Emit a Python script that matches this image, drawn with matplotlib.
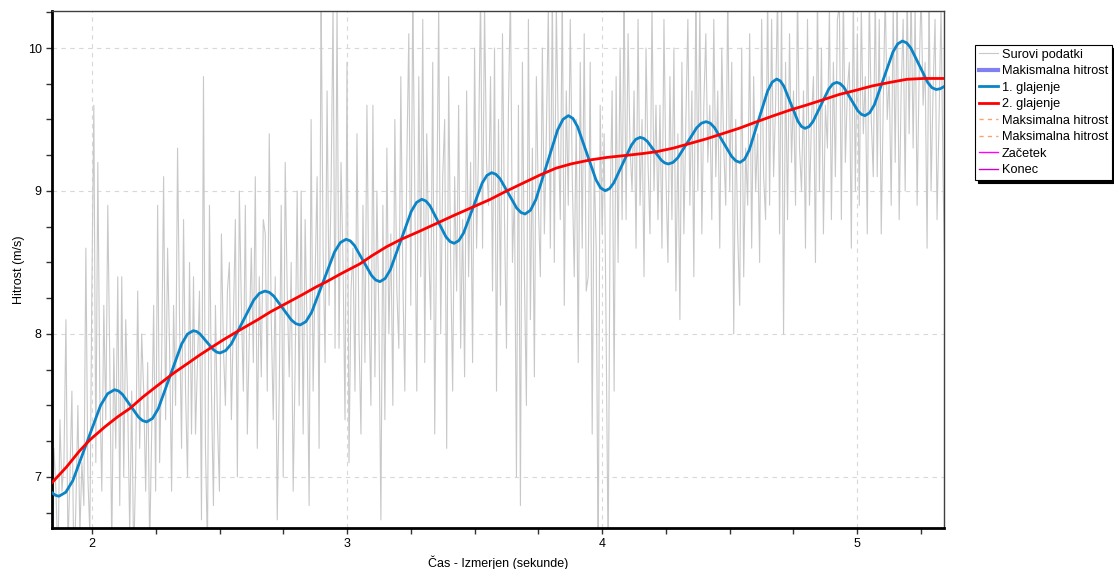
import numpy as np
import matplotlib
matplotlib.use("Agg")
import matplotlib.pyplot as plt

plt.rcParams['font.family'] = ['Liberation Sans', 'DejaVu Sans']

########## DATOS ##########
# Surovi podatki (sampled evenly in time)
raw_t0 = 1.835
raw_t1 = 5.345
raw_v = [
    7.3, 6.5, 7.2, 6.9, 6.4, 7.4, 6.9, 7.1, 8.1, 6.5, 7.0, 7.6, 6.3, 6.8, 7.5, 6.6, 7.1, 6.8,
    8.6, 7.0, 6.6, 8.3, 9.6, 7.1, 9.2, 7.6, 6.9, 8.2, 7.4, 8.9, 7.8, 6.5, 7.9, 7.2, 8.4, 6.8,
    8.4, 7.0, 8.1, 7.5, 6.6, 7.6, 6.4, 7.1, 8.3, 7.2, 8.0, 7.6, 6.9, 7.8, 6.5, 7.3, 8.2, 6.9,
    8.9, 7.1, 7.8, 9.1, 7.4, 8.6, 7.9, 6.9, 8.2, 7.5, 9.3, 8.1, 7.2, 8.8, 7.6, 7.0, 8.5, 7.3,
    8.4, 7.3, 7.8, 8.3, 6.7, 9.8, 7.2, 6.5, 8.9, 7.6, 6.8, 8.2, 7.4, 6.9, 8.7, 7.9, 7.5, 8.3,
    8.5, 7.4, 8.1, 8.8, 7.0, 9.0, 8.2, 7.6, 8.9, 7.3, 8.0, 8.6, 7.8, 9.1, 7.2, 8.4, 7.7, 8.8,
    8.7, 7.6, 9.4, 8.1, 7.4, 8.4, 6.7, 7.6, 8.9, 7.0, 9.2, 8.3, 7.7, 8.5, 6.9, 7.8, 9.0, 7.5,
    9.0, 7.3, 8.8, 8.0, 6.8, 9.5, 7.6, 8.4, 9.1, 7.2, 10.4, 8.6, 7.8, 9.7, 8.2, 9.0, 10.3, 7.9,
    10.3, 7.9, 9.2, 8.5, 7.4, 9.9, 7.1, 8.3, 8.6, 7.6, 9.4, 8.0, 7.3, 8.9, 7.8, 9.6, 8.2, 7.5,
    9.6, 7.7, 9.0, 8.1, 6.7, 8.9, 7.4, 9.3, 8.0, 8.7, 7.5, 9.5, 8.3, 7.9, 9.8, 8.4, 7.6, 9.2,
    10.1, 8.2, 10.4, 9.0, 7.6, 9.8, 8.4, 10.2, 7.8, 9.4, 8.6, 8.1, 9.9, 7.3, 8.8, 10.3, 8.0, 9.1,
    9.5, 7.2, 9.8, 8.5, 7.6, 9.1, 8.3, 9.6, 7.9, 8.8, 7.7, 9.7, 8.4, 9.2, 7.8, 10.0, 8.6, 9.3,
    10.4, 8.6, 10.3, 9.2, 8.9, 9.8, 8.3, 10.0, 7.6, 9.5, 8.2, 10.1, 8.8, 7.9, 9.6, 10.4, 8.5, 9.0,
    7.0, 9.6, 6.8, 9.9, 8.4, 7.5, 10.2, 8.1, 9.3, 7.7, 9.8, 8.9, 8.4, 10.0, 8.7, 9.4, 10.3, 8.6,
    10.4, 8.5, 10.3, 9.4, 8.8, 10.4, 8.2, 9.7, 8.9, 10.2, 9.1, 8.4, 9.5, 7.8, 9.9, 8.6, 10.1, 8.3,
    8.4, 9.9, 7.3, 9.2, 8.6, 6.3, 9.6, 8.7, 9.4, 8.0, 6.4, 8.9, 9.7, 7.6, 9.8, 8.5, 10.0, 8.8,
    10.4, 8.8, 10.1, 9.3, 9.0, 9.7, 8.6, 10.2, 8.9, 9.5, 8.4, 10.0, 9.2, 8.7, 10.3, 9.0, 9.6, 8.8,
    9.6, 8.6, 10.2, 9.1, 8.5, 9.8, 8.8, 10.0, 8.3, 9.4, 8.1, 9.9, 8.7, 9.5, 10.2, 8.9, 9.7, 8.4,
    10.4, 9.0, 10.3, 8.7, 9.6, 10.1, 9.2, 9.6, 8.8, 10.2, 9.1, 9.7, 8.6, 10.0, 9.3, 8.9, 10.4, 9.0,
    9.9, 8.0, 9.5, 8.7, 8.2, 10.0, 8.4, 9.3, 8.9, 10.1, 8.6, 9.8, 9.0, 9.4, 8.5, 10.2, 9.1, 8.8,
    10.4, 8.9, 10.2, 9.1, 9.6, 10.4, 8.7, 10.3, 8.0, 9.9, 8.8, 10.1, 9.2, 9.7, 8.9, 10.4, 9.3, 9.0,
    9.7, 8.6, 10.2, 8.9, 9.5, 9.8, 8.5, 10.4, 9.0, 10.0, 8.7, 9.6, 9.3, 10.3, 8.8, 9.9, 9.1, 10.2,
    10.3, 8.8, 10.4, 9.2, 9.7, 9.9, 8.6, 10.4, 9.0, 10.1, 8.9, 10.3, 9.4, 9.8, 8.7, 10.4, 9.5, 9.1,
    10.4, 9.1, 10.2, 8.7, 9.6, 10.4, 9.5, 9.8, 8.9, 10.3, 9.2, 10.4, 8.8, 9.7, 10.2, 9.0, 10.4, 9.4,
    10.4, 9.3, 10.3, 8.9, 9.8, 10.4, 9.6, 9.9, 8.6, 10.4, 9.0, 9.7, 10.2, 8.8, 9.5, 10.3, 9.1, 8.3,
]
raw_t = np.linspace(raw_t0, raw_t1, len(raw_v))

# 1. glajenje
gl1_t = [1.843, 1.856, 1.870, 1.897, 1.9245, 1.979, 2.0335, 2.061, 2.088,
         2.104, 2.1195, 2.151, 2.1825, 2.198, 2.214, 2.237, 2.2598, 2.3055,
         2.3513, 2.374, 2.397, 2.410, 2.4233, 2.4495, 2.4758, 2.489, 2.502,
         2.524, 2.546, 2.590, 2.634, 2.656, 2.678, 2.695, 2.7125, 2.747,
         2.7815, 2.799, 2.816, 2.8385, 2.861, 2.906, 2.951, 2.9735, 2.996,
         3.0126, 3.029, 3.0625, 3.096, 3.1124, 3.129, 3.1495, 3.170, 3.211,
         3.252, 3.2725, 3.293, 3.309, 3.325, 3.3565, 3.388, 3.404, 3.420,
         3.4384, 3.457, 3.4935, 3.530, 3.5486, 3.567, 3.5834, 3.600, 3.6325,
         3.665, 3.6816, 3.698, 3.7193, 3.7405, 3.783, 3.8255, 3.8468, 3.868,
         3.886, 3.904, 3.940, 3.976, 3.994, 4.012, 4.0291, 4.046, 4.0805,
         4.115, 4.1319, 4.149, 4.1629, 4.177, 4.2045, 4.232, 4.2461, 4.260,
         4.2785, 4.297, 4.334, 4.371, 4.3895, 4.408, 4.4246, 4.441, 4.4745,
         4.508, 4.5244, 4.541, 4.559, 4.577, 4.613, 4.649, 4.667, 4.685,
         4.6989, 4.713, 4.7405, 4.768, 4.7821, 4.796, 4.8115, 4.827, 4.858,
         4.889, 4.9045, 4.920, 4.9339, 4.948, 4.9755, 5.003, 5.0171, 5.031,
         5.0494, 5.068, 5.1045, 5.141, 5.1596, 5.178, 5.1945, 5.211, 5.244,
         5.277, 5.2935, 5.310, 5.326, 5.341]
gl1_v = [6.89, 6.872, 6.865, 6.893, 6.974, 7.2375, 7.501, 7.582, 7.61,
         7.601, 7.577, 7.4975, 7.418, 7.394, 7.385, 7.409, 7.478, 7.704,
         7.930, 7.999, 8.023, 8.017, 8.000, 7.945, 7.890, 7.873, 7.867,
         7.884, 7.930, 8.0835, 8.237, 8.284, 8.30, 8.291, 8.265, 8.1815,
         8.098, 8.072, 8.063, 8.086, 8.151, 8.3625, 8.574, 8.639, 8.662,
         8.651, 8.619, 8.514, 8.409, 8.377, 8.366, 8.388, 8.450, 8.654,
         8.858, 8.920, 8.942, 8.930, 8.897, 8.788, 8.679, 8.646, 8.634,
         8.653, 8.706, 8.881, 9.056, 9.109, 9.128, 9.117, 9.086, 8.9835,
         8.881, 8.850, 8.839, 8.865, 8.940, 9.183, 9.426, 9.501, 9.527,
         9.507, 9.450, 9.2645, 9.079, 9.022, 9.002, 9.016, 9.057, 9.1885,
         9.320, 9.361, 9.375, 9.368, 9.348, 9.282, 9.216, 9.196, 9.189,
         9.200, 9.232, 9.337, 9.442, 9.474, 9.485, 9.474, 9.443, 9.3425,
         9.242, 9.211, 9.200, 9.222, 9.285, 9.4915, 9.698, 9.761, 9.783,
         9.770, 9.733, 9.6105, 9.488, 9.451, 9.438, 9.450, 9.485, 9.599,
         9.713, 9.748, 9.760, 9.751, 9.726, 9.6435, 9.561, 9.536, 9.527,
         9.547, 9.603, 9.788, 9.973, 10.029, 10.049, 10.036, 10.000, 9.8795,
         9.759, 9.723, 9.710, 9.715, 9.730]

# 2. glajenje
gl2_t = [1.843, 1.90, 1.95, 1.992, 2.05, 2.10, 2.149, 2.20, 2.25, 2.319,
         2.38, 2.42, 2.463, 2.52, 2.58, 2.65, 2.70, 2.75, 2.82, 2.88,
         2.92, 2.98, 3.05, 3.10, 3.155, 3.21, 3.28, 3.352, 3.42, 3.49,
         3.56, 3.62, 3.69, 3.757, 3.82, 3.88, 3.953, 4.02, 4.10, 4.16,
         4.214, 4.28, 4.35, 4.41, 4.476, 4.54, 4.60, 4.67, 4.737, 4.80,
         4.87, 4.93, 4.999, 5.06, 5.13, 5.195, 5.26, 5.341]
gl2_v = [6.96, 7.07, 7.18, 7.26, 7.35, 7.42, 7.48, 7.56, 7.63, 7.725,
         7.80, 7.85, 7.90, 7.965, 8.028, 8.10, 8.155, 8.203, 8.27, 8.33,
         8.366, 8.425, 8.49, 8.55, 8.61, 8.66, 8.715, 8.774, 8.83, 8.885,
         8.94, 8.995, 9.055, 9.112, 9.16, 9.19, 9.217, 9.235, 9.25, 9.262,
         9.275, 9.30, 9.335, 9.365, 9.403, 9.44, 9.48, 9.525, 9.566, 9.60,
         9.64, 9.675, 9.706, 9.735, 9.76, 9.781, 9.787, 9.787]

x_ticks = [2, 3, 4, 5]
y_ticks = [7, 8, 9, 10]

########## GRAFICO ##########
fig = plt.figure(figsize=(11.14, 5.69), dpi=100)
ax = fig.add_axes([0.0467, 0.0721, 0.8007, 0.9086])

ax.plot(raw_t, raw_v, color='#c8c8c8', lw=0.8, label='Surovi podatki', zorder=2)
ax.plot([], [], color='#8080f0', lw=3, label='Makismalna hitrost')
ax.plot(gl1_t, gl1_v, color='#0a84c6', lw=2.0, label='1. glajenje', zorder=3)
ax.plot(gl2_t, gl2_v, color='#ff0000', lw=2.0, label='2. glajenje', zorder=4)
ax.plot([], [], color='#ffa070', lw=1, ls=(0, (3, 3)), label='Maksimalna hitrost')
ax.plot([], [], color='#ffa070', lw=1, ls=(0, (3, 3)), label='Maksimalna hitrost')
ax.plot([], [], color='#ff00ff', lw=1, label='Začetek')
ax.plot([], [], color='#cc00cc', lw=1, label='Konec')

ax.set_xticks(x_ticks)
ax.set_yticks(y_ticks)
ax.set_xticks(np.arange(1.75, 5.5, 0.25), minor=True)
ax.set_yticks(np.arange(6.75, 10.5, 0.25), minor=True)
ax.set_xlim(1.843, 5.341)
ax.set_ylim(6.643, 10.259)
ax.tick_params(which='both', direction='out', length=4, width=1, colors='#333333',
               labelsize=9, labelcolor='black')
ax.grid(True, which='major', color='#d8d8d8', ls=(0, (4, 4)), lw=0.8)
ax.set_axisbelow(True)

for s in ['left', 'bottom']:
    ax.spines[s].set_linewidth(2)
    ax.spines[s].set_color('black')
for s in ['top', 'right']:
    ax.spines[s].set_linewidth(1)
    ax.spines[s].set_color('#404040')

ax.set_xlabel('Čas - Izmerjen (sekunde)', fontsize=9, labelpad=4)
ax.set_ylabel('Hitrost (m/s)', fontsize=9, labelpad=2)

leg = ax.legend(loc='upper left', bbox_to_anchor=(0.8752, 0.921),
                bbox_transform=fig.transFigure, fontsize=9.2, frameon=True,
                fancybox=False, shadow={'color': 'black', 'alpha': 1},
                handlelength=1.5, handletextpad=0.3, borderpad=0.3,
                labelspacing=0.35, borderaxespad=0)
leg.get_frame().set_edgecolor('black')
leg.get_frame().set_linewidth(0.8)

fig.savefig('out.png', dpi=100)
